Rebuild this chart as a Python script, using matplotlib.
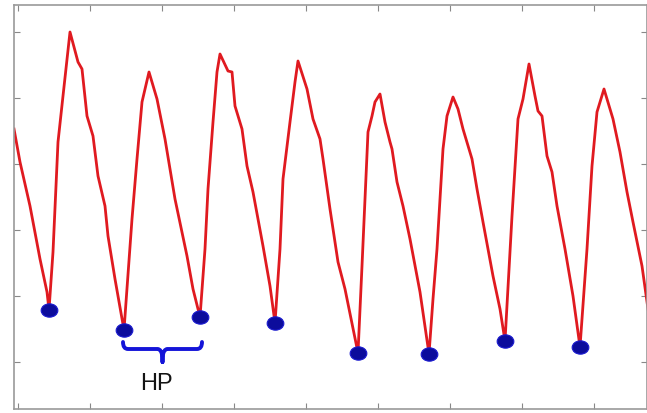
import numpy as np
import matplotlib.pyplot as plt
from matplotlib.path import Path
from matplotlib.patches import PathPatch

# pulse waveform (sample index, amplitude)
t = [-4, 2, 12, 22, 29, 31, 35, 40, 45, 52, 60, 64, 69, 75, 80, 87, 90, 97, 106,
     114, 119, 124, 131, 139, 147, 157, 169, 175, 182, 187, 190, 195, 199, 202,
     210, 214, 217, 224, 229, 235, 245, 252, 257, 262, 265, 272, 277, 280, 289,
     295, 302, 305, 312, 320, 327, 340, 344, 350, 354, 357, 362, 367, 372, 374,
     379, 385, 392, 402, 411, 415, 419, 425, 429, 435, 440, 445, 454, 459, 465,
     475, 482, 487, 494, 500, 505, 511, 517, 520, 524, 529, 534, 539, 547, 555,
     562, 569, 574, 579, 586, 595, 602, 609, 615, 624, 630]
amp = [233, 200, 156, 103, 70, 52, 110, 220, 266, 330, 300, 293, 246, 226, 186,
       156, 126, 83, 32, 143, 203, 260, 290, 263, 223, 163, 106, 73, 45, 113,
       173, 240, 290, 308, 291, 290, 256, 233, 196, 170, 116, 76, 39, 113, 183,
       240, 280, 301, 273, 243, 223, 203, 153, 100, 73, 9, 96, 230, 246, 260,
       268, 240, 220, 213, 180, 156, 123, 70, 8, 63, 113, 213, 246, 265, 253,
       233, 203, 173, 140, 86, 53, 21, 146, 243, 263, 298, 266, 251, 246, 206,
       190, 156, 113, 66, 15, 113, 196, 250, 273, 243, 210, 170, 140, 96, 53]

# detected troughs
trough_t = [31, 106, 182, 257, 340, 411, 487, 562]
trough_amp = [52, 32, 45, 39, 9, 8, 21, 15]

fig = plt.figure(figsize=(6.47, 4.14), dpi=100)
ax = fig.add_axes([14 / 647, 4 / 414, 633 / 647, 404 / 414])

ax.plot(t, amp, color='#e01a20', linewidth=2.0, solid_joinstyle='round', zorder=2)

# slightly flattened dot marker
circ = Path.unit_circle()
dot = Path(circ.vertices * [1.0, 0.8], circ.codes)
ax.plot(trough_t, trough_amp, linestyle='none', marker=dot, markersize=12,
        markerfacecolor='#0c0c9c', markeredgecolor='#1a1ad0', markeredgewidth=0.8,
        zorder=3)

# brace marking one heart period
x0, x1 = trough_t[1] - 1, trough_t[2] + 2
xm = (x0 + x1) / 2
verts = [(x0, 20), (x0, 13), (x0 + 5, 13), (x0 + 8, 13),
         (xm - 5, 13), (xm - 1, 13), (xm, 5), (xm, 0),
         (xm, 5), (xm + 1, 13), (xm + 5, 13),
         (x1 - 8, 13), (x1 - 5, 13), (x1, 13), (x1, 20)]
codes = [Path.MOVETO, Path.CURVE3, Path.CURVE3, Path.LINETO,
         Path.LINETO, Path.CURVE3, Path.CURVE3, Path.LINETO,
         Path.LINETO, Path.CURVE3, Path.CURVE3,
         Path.LINETO, Path.LINETO, Path.CURVE3, Path.CURVE3]
ax.add_patch(PathPatch(Path(verts, codes), facecolor='none', edgecolor='#1414d8',
                       linewidth=2.8, capstyle='round', joinstyle='round'))
ax.text(xm - 6, -21, 'HP', ha='center', va='center', fontsize=17,
        family='Liberation Sans', color='#141414')

ax.set_xlim(-4, 629)
ax.set_ylim(-47, 357)
ax.set_xticks(np.arange(0, 629, 72))
ax.set_yticks(np.arange(0, 357, 66))
ax.tick_params(direction='in', length=4, width=0.8, color='#888888',
               top=True, right=True, labelbottom=False, labelleft=False)
for s in ax.spines.values():
    s.set_color('#9a9a9a')
    s.set_linewidth(1.2)

fig.savefig('out.png', dpi=100)
